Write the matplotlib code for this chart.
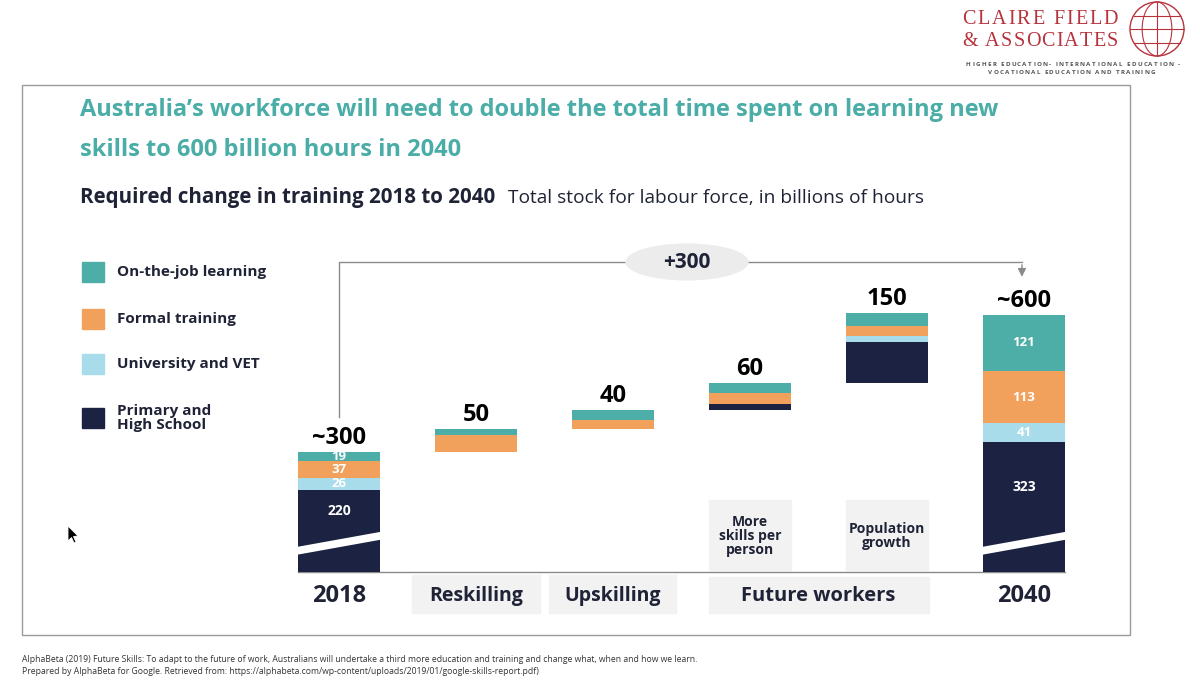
"""Waterfall: required change in training hours, Australia 2018 -> 2040."""
import matplotlib

matplotlib.use("Agg")
import matplotlib.pyplot as plt
from matplotlib.patches import Rectangle, Polygon, Circle, Ellipse
import numpy as np

plt.rcParams["font.family"] = ["Open Sans", "DejaVu Sans"]

# ---- data (billions of hours) ----
categories = ["2018", "Reskilling", "Upskilling", "More\nskills per\nperson", "Population\ngrowth", "2040"]
onjob = [19, 14, 21, 22, 28, 121]
formal = [37, 36, 19, 25, 22, 113]
univ = [26, 0, 0, 0, 13, 41]
school = [220, 0, 0, 13, 87, 323]
total_labels = ["~300", "50", "40", "60", "150", "~600"]
change_label = "+300"

TEAL = "#4DAEA8"
ORANGE = "#F2A15C"
LIGHT = "#A9DCEB"
NAVY = "#1C2242"
DARK = "#1F2335"
BOXGRAY = "#F2F2F3"

W, H = 1200, 687
fig = plt.figure(figsize=(W / 100, H / 100), dpi=100)
fig.patch.set_facecolor("white")

# decoration layer in pixel coordinates
deco = fig.add_axes([0, 0, 1, 1])
deco.set_xlim(0, W)
deco.set_ylim(H, 0)
deco.axis("off")
renderer = fig.canvas.get_renderer()


def spaced(s, x0, x1, y, **kw):
    # letter-spaced text stretched to fill x0..x1
    widths = []
    for ch in s:
        if ch == " ":
            widths.append(kw["fontsize"] * 0.35)
            continue
        t = deco.text(0, 0, ch, **kw)
        widths.append(t.get_window_extent(renderer).width)
        t.remove()
    gap = (x1 - x0 - sum(widths)) / (len(s) - 1)
    pos = x0
    for ch, w in zip(s, widths):
        if ch != " ":
            deco.text(pos, y, ch, ha="left", va="center", **kw)
        pos += w + gap


# frame
deco.add_patch(Rectangle((22, 85), 1108, 550, fill=False, ec="#9a9a9a", lw=1.0))

# logo
red = "#B7323C"
spaced("CLAIRE FIELD", 962, 1118, 20, color=red, fontsize=14.5, family="Liberation Serif")
spaced("& ASSOCIATES", 962, 1118, 41, color=red, fontsize=14.5, family="Liberation Serif")
spaced("HIGHER EDUCATION- INTERNATIONAL EDUCATION -", 966, 1180, 65, color="#555",
       fontsize=4.5, weight="bold")
spaced("VOCATIONAL EDUCATION AND TRAINING", 988, 1155, 73, color="#555", fontsize=4.5,
       weight="bold")
gx, gy, gr = 1157, 29, 27
deco.add_patch(Circle((gx, gy), gr, fill=False, ec=red, lw=1.0))
deco.add_patch(Ellipse((gx, gy), gr * 1.1, gr * 2, fill=False, ec=red, lw=0.8))
deco.plot([gx, gx], [gy - gr, gy + gr], color=red, lw=0.8)
for dy in (-gr * 0.5, 0, gr * 0.5):
    half = np.sqrt(gr ** 2 - dy ** 2)
    deco.plot([gx - half, gx + half], [gy + dy, gy + dy], color=red, lw=0.8)

# titles
deco.text(80, 110, "Australia\u2019s workforce will need to double the total time spent on learning new",
          color="#4AADA7", fontsize=17, weight="bold", va="center")
deco.text(80, 150, "skills to 600 billion hours in 2040", color="#4AADA7", fontsize=17,
          weight="bold", va="center")
deco.text(80, 198, "Required change in training 2018 to 2040", color=DARK, fontsize=14.8,
          weight="bold", va="center")
deco.text(508, 198, "Total stock for labour force, in billions of hours", color=DARK,
          fontsize=13.8, va="center")

# legend
legend = [(TEAL, "On-the-job learning", 272), (ORANGE, "Formal training", 319),
          (LIGHT, "University and VET", 364), (NAVY, "Primary and\nHigh School", 418)]
for col, lab, yc in legend:
    deco.add_patch(Rectangle((82, yc - 10), 22, 20, color=col))
    deco.text(117, yc, lab, color=DARK, fontsize=11, weight="bold", va="center", linespacing=1.05)

# grey boxes behind category labels
for x0, y0_, w, h in [(412, 575, 128, 38), (549, 575, 127, 38), (709, 577, 220, 36),
                      (709, 500, 82, 70), (846, 500, 82, 70)]:
    deco.add_patch(Rectangle((x0, y0_), w, h, color=BOXGRAY, zorder=0))

# footer
deco.text(22, 660, "AlphaBeta (2019) Future Skills: To adapt to the future of work, Australians will "
          "undertake a third more education and training and change what, when and how we learn.",
          fontsize=6.25, color="#333", va="center")
deco.text(22, 671, "Prepared by AlphaBeta for Google. Retrieved from: "
          "https://alphabeta.com/wp-content/uploads/2019/01/google-skills-report.pdf)",
          fontsize=6.25, color="#333", va="center")

# mouse cursor
deco.add_patch(Polygon([(68, 526), (68, 541), (71.5, 537.5), (74, 543), (76, 542),
                        (73.5, 536.5), (78, 536)], closed=True, fc="black", ec="white", lw=0.6))

# ---- chart axes ----
px_per_unit = 0.4633
y0 = 43.0
base_px, top_px = 572, 250
ax = fig.add_axes([270.5 / W, (H - base_px) / H, 822 / W, (base_px - top_px) / H])
ax.patch.set_alpha(0)
ax.set_xlim(-0.5, 5.5)
ax.set_ylim(y0, y0 + (base_px - top_px) / px_per_unit)
ax.axis("off")

x = np.arange(len(categories))
bw = 0.6
ax.plot([x[0] - bw / 2, x[-1] + bw / 2], [y0, y0], color="#8a8a8a", lw=1.0, zorder=1,
        clip_on=False)

stacks = np.array([school, univ, formal, onjob], dtype=float)
sums = stacks.sum(axis=0)
bottoms = np.zeros(len(categories))
running = sums[0]
for i in range(1, len(categories) - 1):
    bottoms[i] = running
    running += sums[i]

cur = bottoms.copy()
for vals, col in zip(stacks, [NAVY, LIGHT, ORANGE, TEAL]):
    ax.bar(x, vals, bw, bottom=cur, color=col, zorder=2)
    cur = cur + vals

# axis break on the full bars
for i in (0, len(categories) - 1):
    l, r = x[i] - bw / 2 - 0.01, x[i] + bw / 2 + 0.01
    ax.add_patch(Polygon([(l, 80), (r, 113), (r, 130), (l, 97)], closed=True, fc="white",
                         ec="none", zorder=3))
    # segment labels
    seg_bottom = 0.0
    for k, vals in enumerate(stacks):
        v = vals[i]
        yc = (130 + v) / 2 if k == 0 else seg_bottom + v / 2
        ax.text(x[i], yc, f"{int(v)}", color="white", fontsize=10 if k == 0 else 9.5,
                weight="bold", ha="center", va="center", zorder=4)
        seg_bottom += v

# totals above bars
for i, lab in enumerate(total_labels):
    ax.annotate(lab, (x[i], bottoms[i] + sums[i]), xytext=(0, 10), textcoords="offset points",
                ha="center", va="center", fontsize=17, weight="bold", color="black")

# category labels
for i, lab in enumerate(categories):
    if "\n" in lab:
        ax.annotate(lab, (x[i], 0), xycoords=("data", "axes fraction"), xytext=(0, 26),
                    textcoords="offset points", ha="center", va="center", fontsize=10,
                    weight="bold", color=DARK, linespacing=1.0)
    else:
        ax.annotate(lab, (x[i], 0), xycoords=("data", "axes fraction"), xytext=(0, -17),
                    textcoords="offset points", ha="center", va="center",
                    fontsize=17 if i in (0, 5) else 14, weight="bold", color=DARK)
ax.annotate("Future workers", (3.5, 0), xycoords=("data", "axes fraction"), xytext=(0, -17),
            textcoords="offset points", ha="center", va="center", fontsize=14.5,
            weight="bold", color=DARK)

# bracket showing the total change
bracket_y = y0 + (base_px - 262) / px_per_unit
ax.plot([x[0], x[0], x[-1] - 0.015], [sums[0] + 75, bracket_y, bracket_y], color="#8a8a8a",
        lw=1.0, clip_on=False, zorder=1)
ax.annotate("", xy=(x[-1] - 0.015, bracket_y - 38), xytext=(x[-1] - 0.015, bracket_y),
            arrowprops=dict(arrowstyle="-|>", color="#8a8a8a", lw=1.0, mutation_scale=12))
ax.add_patch(Ellipse((2.54, bracket_y), 0.9, 80, fc="#ECECEC", ec="none", zorder=2,
                     clip_on=False))
ax.text(2.54, bracket_y, change_label, ha="center", va="center", fontsize=15, weight="bold",
        color=DARK, zorder=3)

fig.savefig("out.png", dpi=100)
